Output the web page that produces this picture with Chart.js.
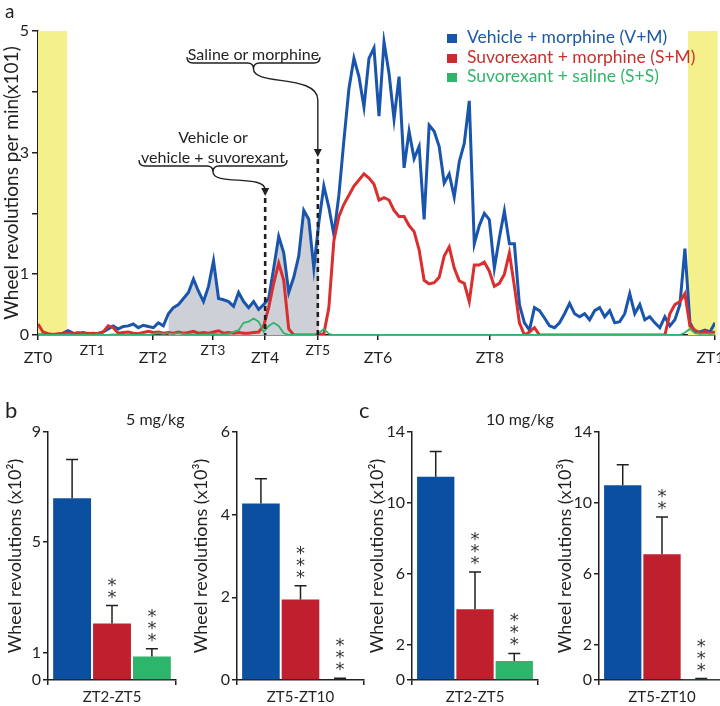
<!DOCTYPE html>
<html>
<head>
<meta charset="utf-8">
<script src="https://cdn.jsdelivr.net/npm/chart.js@4.4.1/dist/chart.umd.min.js"></script>
<style>
  html, body { margin: 0; padding: 0; background: #fff; overflow: hidden; }
  body { width: 720px; height: 706px; position: relative; font-family: Lato, sans-serif; color: #231f20; }
  canvas { position: absolute; }
  .t { position: absolute; white-space: nowrap; z-index: 2; }
  .leg { position: absolute; left: 447px; top: 27px; z-index: 2; font-size: 17.5px; }
  .leg div { height: 19.5px; line-height: 19.5px; white-space: nowrap; }
  .leg span { display: inline-block; width: 10px; height: 9px; margin-right: 10px; vertical-align: 0px; }
</style>
</head>
<body>
<canvas id="chartA" style="left:0;top:0" width="720" height="372"></canvas>
<canvas id="chartB1" style="left:0;top:400px" width="180" height="306"></canvas>
<canvas id="chartB2" style="left:186px;top:400px" width="180" height="306"></canvas>
<canvas id="chartC1" style="left:362px;top:400px" width="180" height="306"></canvas>
<canvas id="chartC2" style="left:550px;top:400px" width="175" height="306"></canvas>

<div class="t" style="left:5px;top:-1px;font-size:19px">a</div>
<div class="t" style="left:5px;top:396px;font-size:22px">b</div>
<div class="t" style="left:359px;top:396px;font-size:22px">c</div>
<div class="t" style="left:126px;top:409px;font-size:16px">5 mg/kg</div>
<div class="t" style="left:486px;top:409px;font-size:16px">10 mg/kg</div>
<div class="t" style="left:177px;top:44px;width:153px;text-align:center;font-size:16px">Saline or morphine</div>
<div class="t" style="left:123px;top:127px;width:180px;text-align:center;font-size:16px;line-height:20px">Vehicle or<br>vehicle + suvorexant</div>
<div class="leg">
  <div style="color:#1c5aa8"><span style="background:#1a55ad"></span>Vehicle + morphine (V+M)</div>
  <div style="color:#c9302c"><span style="background:#cf2a2e"></span>Suvorexant + morphine (S+M)</div>
  <div style="color:#34b56a"><span style="background:#2fb46a"></span>Suvorexant + saline (S+S)</div>
</div>

<script>
// ---- panel a : wheel revolutions per min (x10), one sample every ~5 px along the time axis
var vehMorphine = [0, 0, 0, 0, 0, 0.03, 0.07, 0.03, 0.02, 0.04, 0.02, 0.03, 0.02, 0.05, 0.1, 0.15, 0.1, 0.14, 0.15, 0.18,
  0.12, 0.16, 0.14, 0.12, 0.2, 0.15, 0.35, 0.45, 0.5, 0.6, 0.7, 0.92, 0.72, 0.55, 0.8, 1.22, 0.6, 0.58, 0.55, 0.47,
  0.7, 0.55, 0.45, 0.55, 0.42, 0.5, 0.6, 1.1, 1.62, 1.35, 0.7, 0.95, 1.3, 2.05, 1.9, 1.1, 1.85, 2.45, 2.1, 1.65,
  2.3, 3.2, 4.05, 4.55, 4.25, 3.75, 4.55, 4.72, 3.6, 4.82, 4.3, 3.55, 4.25, 2.75, 3.35, 2.9, 3.1, 1.9, 3.45, 3.35,
  3.1, 2.5, 2.65, 2.27, 2.85, 3.15, 3.85, 1.5, 1.8, 2.0, 1.9, 1.1, 1.6, 2.04, 1.5, 1.5, 0.5, 0.2, 0.08, 0.45,
  0.4, 0.28, 0.15, 0.12, 0.2, 0.35, 0.52, 0.35, 0.3, 0.35, 0.25, 0.4, 0.45, 0.3, 0.4, 0.2, 0.22, 0.35, 0.68, 0.35,
  0.5, 0.25, 0.3, 0.2, 0.12, 0.3, 0.15, 0.25, 0.5, 1.42, 0.2, 0.05, 0.05, 0.08, 0.05, 0.2];
var suvMorphine = [0.18, 0.05, 0.02, 0.01, 0.02, 0.02, 0.03, 0.02, 0.04, 0.02, 0.03, 0.02, 0.03, 0.05, 0.15, 0.12, 0.03, 0.04, 0.05, 0.03,
  0.02, 0.04, 0.06, 0.04, 0.05, 0.03, 0.04, 0.03, 0.05, 0.03, 0.04, 0.06, 0.03, 0.04, 0.03, 0.05, 0.07, 0.03, 0.04, 0.03,
  0.04, 0.03, 0.03, 0.04, 0.05, 0.15, 0.45, 0.85, 1.18, 0.9, 0.1, 0, 0, 0, 0, 0, 0, 0.02, 0.45, 1.55,
  1.95, 2.15, 2.3, 2.45, 2.55, 2.65, 2.58, 2.48, 2.22, 2.26, 2.22, 2.05, 1.95, 1.95, 1.8, 1.7, 1.4, 0.9, 0.84, 0.86,
  0.95, 1.3, 1.45, 1.1, 0.89, 0.85, 0.55, 1.15, 1.15, 1.2, 1.05, 0.8, 0.85, 1.0, 1.35, 0.8, 0.2, 0, 0.05, 0.12,
  0, 0, 0, 0, 0, 0, 0, 0, 0, 0, 0, 0, 0, 0, 0, 0, 0, 0, 0, 0,
  0, 0, 0, 0, 0, 0, 0.35, 0.5, 0.55, 0.68, 0.15, 0.08, 0.03, 0.06, 0.03, 0.05];
var suvSaline = [0, 0, 0, 0, 0, 0, 0.01, 0, 0, 0.01, 0, 0, 0.01, 0, 0, 0.01, 0, 0, 0.01, 0,
  0, 0.01, 0, 0.02, 0.03, 0.02, 0.03, 0.02, 0.03, 0.02, 0.01, 0.01, 0, 0.01, 0.01, 0.02, 0.01, 0.01, 0.02, 0.05,
  0.08, 0.2, 0.22, 0.27, 0.22, 0.05, 0.15, 0.2, 0.15, 0.03, 0, 0, 0, 0, 0, 0, 0.03, 0.1, 0.02, 0,
  0, 0, 0, 0, 0, 0, 0, 0, 0, 0, 0, 0, 0, 0, 0, 0, 0, 0, 0, 0,
  0, 0, 0, 0, 0, 0, 0, 0, 0, 0, 0, 0, 0, 0, 0, 0, 0, 0, 0, 0,
  0, 0, 0, 0, 0, 0, 0, 0, 0, 0, 0, 0, 0, 0, 0, 0, 0, 0, 0, 0,
  0, 0, 0, 0, 0, 0, 0, 0, 0, 0.04, 0.1, 0.03, 0.02, 0.02, 0.02, 0.02];
var shadeFrom = 26, shadeTo = 56;          // grey area under V+M (ZT2 -> ZT5 injection)
var ztLabels = ['ZT0', 'ZT1', 'ZT2', 'ZT3', 'ZT4', 'ZT5', 'ZT6', 'ZT8', 'ZT10'];
var ztPos = [0, 10.8, 22.9, 34.9, 45.3, 55.8, 67.8, 90.1, 135];
var ztRaised = [false, true, false, true, false, true, false, false, false];
var ztTicks = [0, 22.9, 34.9, 45.3, 55.8, 67.8, 90.1, 135];
var lightBands = [[0, 5.8], [129.6, 135.5]];

// ---- panels b / c : totals, mean and sem
var groups = ['V+M', 'S+M', 'S+S'];
var groupColors = ['#0b4fa0', '#c01f2e', '#2db56c'];
var b1Mean = [6.6, 2.05, 0.85], b1Sem = [1.4, 0.65, 0.28], b1Stars = ['', '**', '***'];
var b2Mean = [4.27, 1.95, 0.02], b2Sem = [0.6, 0.33, 0.02], b2Stars = ['', '***', '***'];
var c1Mean = [11.47, 4.0, 1.07], c1Sem = [1.43, 2.1, 0.43], c1Stars = ['', '***', '***'];
var c2Mean = [11.0, 7.1, 0.05], c2Sem = [1.15, 2.1, 0.03], c2Stars = ['', '**', '***'];

Chart.defaults.font.family = 'Lato';
Chart.defaults.color = '#231f20';
Chart.defaults.animation = false;

var ink = '#231f20';

function brace(ctx, x1, x2, y, h) {
  var xm = (x1 + x2) / 2;
  ctx.beginPath();
  ctx.moveTo(x1, y - h);
  ctx.quadraticCurveTo(x1, y, x1 + h, y);
  ctx.lineTo(xm - h, y);
  ctx.quadraticCurveTo(xm, y, xm, y + h);
  ctx.quadraticCurveTo(xm, y, xm + h, y);
  ctx.lineTo(x2 - h, y);
  ctx.quadraticCurveTo(x2, y, x2, y - h);
  ctx.stroke();
}

function arrowDown(ctx, x, y) {
  ctx.beginPath();
  ctx.moveTo(x - 4, y - 8);
  ctx.lineTo(x + 4, y - 8);
  ctx.lineTo(x, y);
  ctx.closePath();
  ctx.fill();
}

var panelA = {
  id: 'panelA',
  beforeDatasetsDraw: function(chart) {
    var ctx = chart.ctx, xs = chart.scales.x, a = chart.chartArea;
    ctx.save();
    ctx.fillStyle = '#f4f08c';
    lightBands.forEach(function(b) {
      var x1 = xs.getPixelForValue(b[0]), x2 = xs.getPixelForValue(b[1]);
      ctx.fillRect(x1, a.top, x2 - x1, a.bottom - a.top);
    });
    ctx.restore();
  },
  afterDatasetsDraw: function(chart) {
    var ctx = chart.ctx, xs = chart.scales.x, a = chart.chartArea;
    var x4 = xs.getPixelForValue(ztPos[4]), x5 = xs.getPixelForValue(ztPos[5]);
    ctx.save();
    ctx.strokeStyle = ink; ctx.fillStyle = ink;
    // injection times
    ctx.lineWidth = 2.6;
    ctx.setLineDash([5, 4]);
    ctx.beginPath();
    ctx.moveTo(x4, 198); ctx.lineTo(x4, a.bottom);
    ctx.moveTo(x5, 159); ctx.lineTo(x5, a.bottom);
    ctx.stroke();
    ctx.setLineDash([]);
    ctx.lineWidth = 1.4;
    // saline or morphine
    brace(ctx, 187, 320, 63, 6);
    ctx.beginPath();
    ctx.moveTo(253.5, 69);
    ctx.bezierCurveTo(253.5, 86, x5, 74, x5, 100);
    ctx.lineTo(x5, 150);
    ctx.stroke();
    arrowDown(ctx, x5, 157);
    // vehicle or vehicle + suvorexant
    brace(ctx, 139, 287, 166, 6);
    ctx.beginPath();
    ctx.moveTo(213, 172);
    ctx.bezierCurveTo(213, 186, x4, 174, x4, 190);
    ctx.stroke();
    arrowDown(ctx, x4, 196);
    ctx.restore();
  },
  afterDraw: function(chart) {
    var ctx = chart.ctx, xs = chart.scales.x, a = chart.chartArea;
    ctx.save();
    ctx.fillStyle = ink;
    ctx.textAlign = 'center';
    ctx.textBaseline = 'middle';
    for (var i = 0; i < ztLabels.length; i++) {
      ctx.font = (ztRaised[i] ? '14px' : '16px') + ' Lato';
      ctx.fillText(ztLabels[i], xs.getPixelForValue(ztPos[i]), a.bottom + (ztRaised[i] ? 15 : 23));
    }
    ctx.restore();
  }
};

var sampleIdx = vehMorphine.map(function(v, i) { return i; });
var shaded = vehMorphine.map(function(v, i) { return (i >= shadeFrom && i <= shadeTo) ? v : null; });

new Chart(document.getElementById('chartA'), {
  type: 'line',
  data: {
    labels: sampleIdx,
    datasets: [
      { label: 'S+S', data: suvSaline, borderColor: '#2fb46a', borderWidth: 1.8, pointRadius: 0, tension: 0, fill: false, order: 1 },
      { label: 'S+M', data: suvMorphine, borderColor: '#d92f2f', borderWidth: 3, pointRadius: 0, tension: 0, fill: false, order: 2 },
      { label: 'V+M', data: vehMorphine, borderColor: '#1a55ad', borderWidth: 3, pointRadius: 0, tension: 0, fill: false, order: 3 },
      { label: 'shade', data: shaded, borderWidth: 0, pointRadius: 0, tension: 0, backgroundColor: '#cdd0d6', fill: 'origin', spanGaps: false, order: 4 }
    ]
  },
  options: {
    responsive: false,
    layout: { padding: { top: 31, right: 5, left: 0, bottom: 0 } },
    plugins: { legend: { display: false }, tooltip: { enabled: false } },
    scales: {
      x: {
        type: 'linear', min: 0, max: 135,
        afterBuildTicks: function(s) { s.ticks = ztTicks.map(function(v) { return { value: v }; }); },
        ticks: { display: false },
        grid: { drawOnChartArea: false, tickLength: 5, color: ink, lineWidth: 1.5 },
        border: { color: ink, width: 1.5 },
        afterFit: function(s) { s.height = 37; }
      },
      y: {
        min: 0, max: 5,
        ticks: { stepSize: 1, font: { size: 16 }, color: ink, padding: 3,
          callback: function(v) { return (v === 2 || v === 4) ? '' : v; } },
        grid: { drawOnChartArea: false, tickLength: 6, color: ink, lineWidth: 1.5 },
        border: { color: ink, width: 1.5 },
        title: { display: true, text: 'Wheel revolutions per min(x101)', font: { size: 19 }, color: ink, padding: { top: 0, bottom: 0 } },
        afterFit: function(s) { s.width = 38; }
      }
    }
  },
  plugins: [panelA]
});

// error bars (upper half) and significance stars
var errStars = {
  id: 'errStars',
  afterDatasetsDraw: function(chart) {
    var ctx = chart.ctx, ys = chart.scales.y;
    ctx.save();
    chart.data.datasets.forEach(function(ds, i) {
      var el = chart.getDatasetMeta(i).data[0];
      var top = ys.getPixelForValue(ds.data[0] + ds.sem);
      ctx.strokeStyle = ink;
      ctx.lineWidth = 1.5;
      ctx.beginPath();
      ctx.moveTo(el.x, el.y);
      ctx.lineTo(el.x, top);
      ctx.moveTo(el.x - 6, top);
      ctx.lineTo(el.x + 6, top);
      ctx.stroke();
      ctx.fillStyle = '#333';
      ctx.font = '18px "DejaVu Sans"';
      ctx.textAlign = 'center';
      ctx.textBaseline = 'alphabetic';
      for (var k = 0; k < ds.stars.length; k++) {
        ctx.fillText('*', el.x, top - 3 - 12 * k);
      }
    });
    ctx.restore();
  }
};

function barChart(id, means, sems, stars, yMax, yTicks, axisW, padRight, xLabel, yTitle) {
  return new Chart(document.getElementById(id), {
    type: 'bar',
    data: {
      labels: [xLabel],
      datasets: groups.map(function(g, i) {
        return { label: g, data: [means[i]], sem: sems[i], stars: stars[i], backgroundColor: groupColors[i],
          categoryPercentage: 0.935, barPercentage: 0.95 };
      })
    },
    options: {
      responsive: false,
      layout: { padding: { top: 32, right: padRight, left: 0, bottom: 0 } },
      plugins: { legend: { display: false }, tooltip: { enabled: false } },
      scales: {
        x: {
          ticks: { font: { size: 15 }, color: ink, padding: 3 },
          grid: { drawOnChartArea: false, tickLength: 5, color: ink, lineWidth: 1.5, offset: true },
          border: { color: ink, width: 1.5 },
          afterFit: function(s) { s.height = 26; }
        },
        y: {
          min: 0, max: yMax,
          afterBuildTicks: function(s) { s.ticks = yTicks.map(function(v) { return { value: v }; }); },
          ticks: { font: { size: 16 }, color: ink, padding: 2 },
          grid: { drawOnChartArea: false, tickLength: 5, color: ink, lineWidth: 1.5 },
          border: { color: ink, width: 1.5 },
          title: { display: true, text: yTitle, font: { size: 18 }, color: ink, padding: { top: 4, bottom: 0 } },
          afterFit: function(s) { s.width = axisW; }
        }
      }
    },
    plugins: [errStars]
  });
}

barChart('chartB1', b1Mean, b1Sem, b1Stars, 9, [0, 1, 5, 9], 48, 4, 'ZT2-ZT5', 'Wheel revolutions (x10²)');
barChart('chartB2', b2Mean, b2Sem, b2Stars, 6, [0, 2, 4, 6], 51, 2, 'ZT5-ZT10', 'Wheel revolutions (x10³)');
barChart('chartC1', c1Mean, c1Sem, c1Stars, 14, [0, 2, 6, 10, 14], 50, 4, 'ZT2-ZT5', 'Wheel revolutions (x10²)');
barChart('chartC2', c2Mean, c2Sem, c2Stars, 14, [0, 2, 6, 10, 14], 49, 0, 'ZT5-ZT10', 'Wheel revolutions (x10³)');
</script>
</body>
</html>
